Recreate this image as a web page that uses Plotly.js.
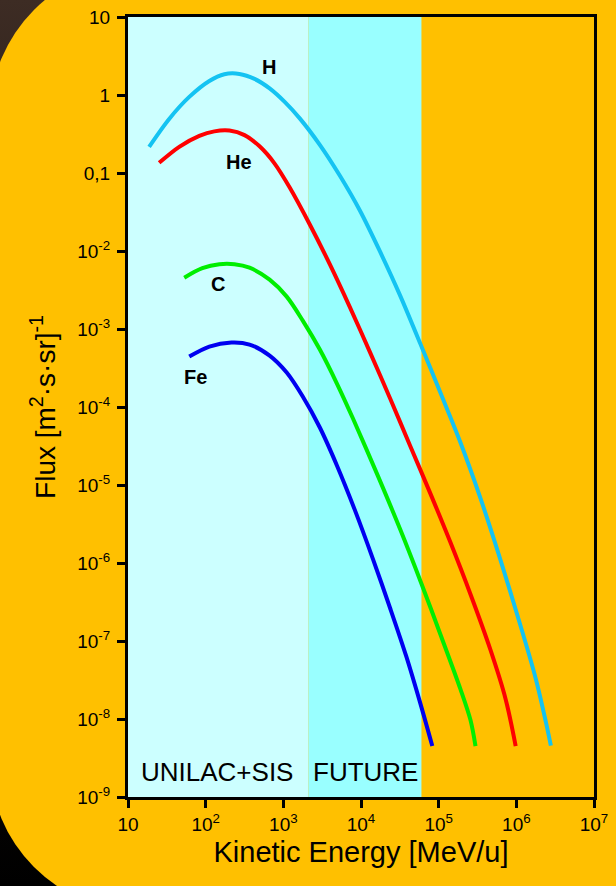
<!DOCTYPE html>
<html>
<head>
<meta charset="utf-8">
<script src="https://cdn.plot.ly/plotly-3.0.1.min.js"></script>
<style>
  html, body { margin:0; padding:0; width:616px; height:886px; overflow:hidden;
    background: linear-gradient(180deg, #3d2c24 0%, #1a1210 45%, #000 100%); }
  #bg { position:absolute; left:-10px; top:-34px; width:700px; height:945px;
    background:#FFC000; border-radius:150px 0 0 150px; }
  #chart { position:absolute; left:0; top:0; width:616px; height:886px; }
</style>
</head>
<body>
<div id="bg"></div>
<div id="chart"></div>
<script>
// Kinetic energy [MeV/u] and flux [m^2 s sr]^-1
const H_E  = [18.7, 33.9, 61.5, 111.5, 174, 272, 426, 666, 1041, 1627, 2951, 5353, 9710, 17610, 31940, 57940, 105100, 190700, 345800, 627300, 1138000, 1779000, 2395000, 2782000];
const H_F  = [0.2166, 0.494, 0.946, 1.515, 1.846, 1.863, 1.607, 1.215, 0.816, 0.502, 0.2297, 0.0921, 0.0328, 9.79e-3, 2.677e-3, 6.5e-4, 1.533e-4, 3.51e-5, 6.74e-6, 1.083e-6, 1.547e-7, 3.29e-8, 9.26e-9, 4.56e-9];
const He_E = [25.17, 45.66, 82.8, 129.4, 202.4, 316.3, 494.5, 772.7, 1208, 2191, 3975, 7210, 13080, 23720, 43020, 78050, 141600, 256800, 465800, 728100, 980600];
const He_F = [0.1351, 0.2166, 0.2995, 0.342, 0.3497, 0.3062, 0.2197, 0.1321, 0.0651, 0.02188, 6.73e-3, 1.893e-3, 5.02e-4, 1.285e-4, 3.167e-5, 7.81e-6, 1.841e-6, 3.973e-7, 7.62e-8, 1.798e-8, 4.5e-9];
const C_E  = [53.0, 90.6, 150.2, 234.9, 367.1, 666, 1105, 1779, 2951, 4896, 7883, 16600, 31940, 59700, 105100, 190700, 256800, 298100];
const C_F  = [4.55e-3, 6.02e-3, 6.78e-3, 6.78e-3, 6.11e-3, 4.29e-3, 2.6e-3, 1.281e-3, 5.45e-4, 2.0e-4, 7.12e-5, 1.289e-5, 2.7e-6, 5.5e-7, 1.222e-7, 2.414e-8, 9.68e-9, 4.5e-9];
const Fe_E = [61.5, 111.5, 214.8, 367.1, 666, 1105, 1779, 2951, 4896, 8368, 14300, 23730, 38200, 57940, 82830];
const Fe_F = [4.43e-4, 5.95e-4, 6.7e-4, 6.32e-4, 4.56e-4, 2.765e-4, 1.363e-4, 5.46e-5, 1.782e-5, 4.73e-6, 1.115e-6, 2.63e-7, 6.39e-8, 1.598e-8, 4.5e-9];

// Energy ranges of the facilities
const regionNames = ["UNILAC+SIS", "FUTURE"];
const regionStart = [10, 2100];
const regionEnd   = [2100, 60000];

const xTickVals = [1e1, 1e2, 1e3, 1e4, 1e5, 1e6, 1e7];
const xTickText = ["10", "10<sup>2</sup>", "10<sup>3</sup>", "10<sup>4</sup>", "10<sup>5</sup>", "10<sup>6</sup>", "10<sup>7</sup>"];
const yTickVals = [1e1, 1, 1e-1, 1e-2, 1e-3, 1e-4, 1e-5, 1e-6, 1e-7, 1e-8, 1e-9];
const yTickText = ["10", "1", "0,1", "10<sup>-2</sup>", "10<sup>-3</sup>", "10<sup>-4</sup>", "10<sup>-5</sup>", "10<sup>-6</sup>", "10<sup>-7</sup>", "10<sup>-8</sup>", "10<sup>-9</sup>"];

const FONT = "Liberation Sans, Arial, sans-serif";

function series(name, x, y, color) {
  return { type: "scatter", mode: "lines", name: name, x: x, y: y,
    line: { color: color, width: 4, shape: "spline", smoothing: 0.9 }, hoverinfo: "x+y+name" };
}

const traces = [
  series("H", H_E, H_F, "#14C3F2"),
  series("He", He_E, He_F, "#FF0000"),
  series("C", C_E, C_F, "#00EE00"),
  series("Fe", Fe_E, Fe_F, "#0000F0")
];

const regionColors = ["#CCFFFF", "#99FFFF"];
const shapes = regionNames.map((n, i) => ({
  type: "rect", layer: "below", xref: "x", yref: "paper",
  x0: regionStart[i], x1: regionEnd[i], y0: 0, y1: 1,
  fillcolor: regionColors[i], line: { width: 0 }
}));

const lbl = (text, x, y, size, bold) => ({
  text: bold ? "<b>" + text + "</b>" : text, xref: "paper", yref: "paper",
  x: x, y: y, showarrow: false, xanchor: "center", yanchor: "middle",
  font: { family: FONT, size: size, color: "#000" }
});

const annotations = [
  lbl("H", 0.3026, 0.9359, 20, true),
  lbl("He", 0.2382, 0.8141, 20, true),
  lbl("C", 0.1931, 0.6577, 20, true),
  lbl("Fe", 0.1438, 0.5385, 20, true),
  lbl(regionNames[0], 0.191, 0.032, 26, false),
  lbl(regionNames[1], 0.5086, 0.032, 26, false)
];

const axisCommon = {
  type: "log", showgrid: false, zeroline: false,
  showline: true, linecolor: "#000", linewidth: 3, mirror: true,
  ticks: "outside", ticklen: 8, tickwidth: 3, tickcolor: "#000",
  tickfont: { family: FONT, size: 19, color: "#000" }, tickmode: "array"
};

const layout = {
  width: 616, height: 886,
  margin: { l: 128, r: 22, t: 17, b: 89 },
  paper_bgcolor: "rgba(0,0,0,0)", plot_bgcolor: "#FFC000",
  showlegend: false,
  xaxis: Object.assign({}, axisCommon, {
    range: [1, 7], tickvals: xTickVals, ticktext: xTickText,
    title: { text: "Kinetic Energy [MeV/u]", font: { family: FONT, size: 29, color: "#000" }, standoff: 8 }
  }),
  yaxis: Object.assign({}, axisCommon, {
    range: [-9, 1], tickvals: yTickVals, ticktext: yTickText, ticklabelstandoff: 3,
    title: { text: "Flux [m<sup>2</sup>·s·sr]<sup>-1</sup>", font: { family: FONT, size: 28, color: "#000" }, standoff: 14 }
  }),
  shapes: shapes,
  annotations: annotations
};

Plotly.newPlot("chart", traces, layout, { staticPlot: true, displayModeBar: false });
</script>
</body>
</html>
